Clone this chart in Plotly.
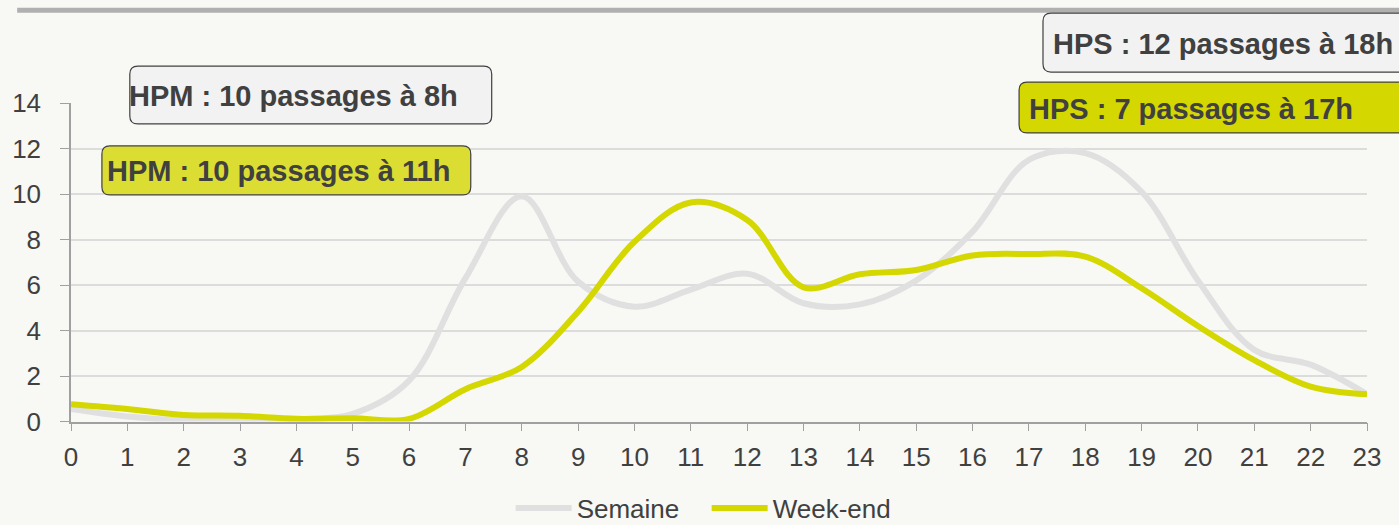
import plotly.graph_objects as go

# ---- data ----
hours = list(range(24))
semaine = [0.55, 0.22, 0.05, 0.05, 0.1, 0.34, 1.8, 6.3, 9.9, 6.15, 5.05, 5.8,
           6.5, 5.2, 5.15, 6.2, 8.35, 11.5, 11.8, 10.1, 6.2, 3.15, 2.5, 1.2]
weekend = [0.76, 0.55, 0.29, 0.25, 0.12, 0.15, 0.12, 1.42, 2.4, 4.83, 7.9, 9.63,
           8.86, 5.9, 6.47, 6.66, 7.3, 7.36, 7.25, 5.86, 4.2, 2.7, 1.54, 1.2]
series_names = ["Semaine", "Week-end"]
y_ticks = [0, 2, 4, 6, 8, 10, 12, 14]
callouts = ["HPM : 10 passages à 8h", "HPM : 10 passages à 11h",
            "HPS : 12 passages à 18h", "HPS : 7 passages à 17h"]

# ---- layout geometry (pixels) ----
W, H = 1399, 525
ML, MR, MT, MB = 67, 32, 103, 103
PW, PH = W - ML - MR, H - MT - MB
FONT = "Liberation Sans, Arial, sans-serif"
TXT = "#404040"
GRAY = "#e0e0e0"
YEL = "#d4d700"
BG = "#f8f8f4"


def px(x):
    return (x - ML) / PW


def py(y):
    return (H - MB - y) / PH


def rounded(x0, y0, x1, y1, r=8):
    pts = [
        ("M", (x0 + r, y0)), ("L", (x1 - r, y0)),
        ("Q", (x1, y0), (x1, y0 + r)), ("L", (x1, y1 - r)),
        ("Q", (x1, y1), (x1 - r, y1)), ("L", (x0 + r, y1)),
        ("Q", (x0, y1), (x0, y1 - r)), ("L", (x0, y0 + r)),
        ("Q", (x0, y0), (x0 + r, y0)),
    ]
    s = ""
    for item in pts:
        s += item[0] + " " + " ".join(f"{px(a):.5f},{py(b):.5f}" for a, b in item[1:]) + " "
    return s + "Z"


fig = go.Figure()
fig.add_trace(go.Scatter(x=hours, y=semaine, name=series_names[0], mode="lines",
                         line=dict(color=GRAY, width=6, shape="spline", smoothing=1.0)))
fig.add_trace(go.Scatter(x=hours, y=weekend, name=series_names[1], mode="lines",
                         line=dict(color=YEL, width=6, shape="spline", smoothing=1.0)))

boxes = [
    # (x0, y0, x1, y1, fill, text_left, text_cy)
    (126, 66, 489, 124, "#f2f2f2", 123, 96),
    (98, 146, 468, 195, "#dcdd32", 101, 171),
    (1042, 13, 1410, 72, "#f2f2f2", 1050, 44),
    (1018, 82, 1410, 133, "#d4d700", 1026, 109),
]
shapes = [dict(type="line", xref="paper", yref="paper", x0=px(13), x1=px(1405),
               y0=py(10), y1=py(10), line=dict(color="#b0b0b0", width=5))]
annotations = []
for (x0, y0, x1, y1, fill, tl, tcy), txt in zip(boxes, callouts):
    shapes.append(dict(type="path", xref="paper", yref="paper", path=rounded(x0, y0, x1, y1),
                       fillcolor=fill, line=dict(color="#404040", width=1.2), layer="above"))
    annotations.append(dict(xref="paper", yref="paper", x=px(tl), y=py(tcy), xanchor="left",
                            yanchor="middle", text="<b>" + txt + "</b>", showarrow=False,
                            font=dict(family=FONT, size=29, color=TXT)))

fig.update_layout(
    width=W, height=H,
    margin=dict(l=ML, r=MR, t=MT, b=MB, pad=0),
    paper_bgcolor=BG, plot_bgcolor=BG,
    font=dict(family=FONT, color=TXT, size=26),
    shapes=shapes, annotations=annotations,
    showlegend=True,
    legend=dict(orientation="h", xref="paper", x=px(508), xanchor="left",
                yref="container", y=(H - 508) / H, yanchor="middle",
                font=dict(size=26, color=TXT), bgcolor="rgba(0,0,0,0)", itemwidth=56,
                entrywidth=125, entrywidthmode="pixels", traceorder="normal"),
    xaxis=dict(range=[0, 23], tickvals=hours, ticktext=[str(h) for h in hours],
               showgrid=False, zeroline=False, showline=True, linecolor="#a0a0a0",
               linewidth=1.5, ticks="outside", ticklen=8, tickcolor="#a0a0a0",
               tickfont=dict(size=26, color=TXT), ticklabelstandoff=4),
    yaxis=dict(range=[0, 14], tickvals=y_ticks, showgrid=True, gridcolor="#dcdcdc",
               gridwidth=1.5, zeroline=False, showline=True, linecolor="#a0a0a0",
               linewidth=1.5, ticks="outside", ticklen=9, tickcolor="#a0a0a0",
               tickfont=dict(size=26, color=TXT), ticklabelstandoff=14),
)

fig.write_html(
    "out.html",
    config={"displayModeBar": False},
    post_script="document.body.style.margin='0';document.body.style.background='" + BG + "';",
)
